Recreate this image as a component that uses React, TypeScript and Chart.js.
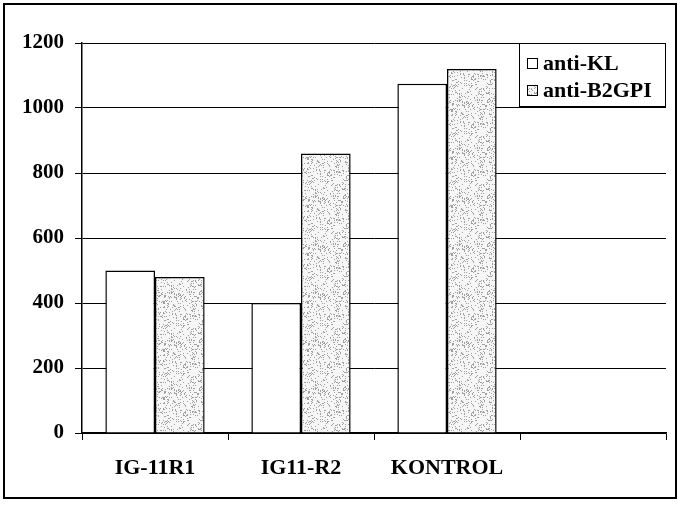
import React, { useEffect, useRef } from "react";
import { Chart, registerables } from "chart.js";

Chart.register(...registerables);

const categories = ["IG-11R1", "IG11-R2", "KONTROL", ""];
const seriesNames = ["anti-KL", "anti-B2GPI"];
const antiKL = [500, 400, 1075, null];
const antiB2GPI = [480, 860, 1120, null];
const yMin = 0;
const yMax = 1200;
const yStep = 200;

function makeStipple(): CanvasPattern | string {
  const n = 48;
  const c = document.createElement("canvas");
  c.width = n;
  c.height = n;
  const g = c.getContext("2d");
  if (!g) return "#e0e0e0";
  g.fillStyle = "#f6f6f6";
  g.fillRect(0, 0, n, n);
  g.fillStyle = "#a0a0a0";
  let s = 12345;
  for (let y = 0; y < n; y++) {
    for (let x = 0; x < n; x++) {
      s = (s * 1103515245 + 12345) & 0x7fffffff;
      if ((s >> 8) % 100 < 16) g.fillRect(x, y, 1, 1);
    }
  }
  const p = g.createPattern(c, "repeat");
  return p || "#e0e0e0";
}

const FONT = "'Liberation Serif', 'Times New Roman', serif";

export default function App() {
  const ref = useRef<HTMLCanvasElement>(null);
  useEffect(() => {
    if (!ref.current) return;
    const stipple = makeStipple();
    const framePlugin = {
      id: "frameAndLegend",
      afterDraw(chart: any) {
        const ctx = chart.ctx;
        ctx.save();
        ctx.strokeStyle = "#000";
        ctx.lineWidth = 2;
        ctx.strokeRect(4, 4, 672, 494);
        const ca = chart.chartArea;
        const bw = 147;
        const bh = 64;
        const bx = ca.right - bw;
        const by = ca.top;
        ctx.fillStyle = "#fff";
        ctx.fillRect(bx, by, bw, bh);
        ctx.lineWidth = 1;
        ctx.strokeRect(bx + 0.5, by + 0.5, bw - 1, bh - 1);
        const fills = ["#ffffff", stipple];
        const rows = [20, 47];
        chart.data.datasets.forEach((ds: any, i: number) => {
          const cy = by + rows[i];
          ctx.fillStyle = fills[i];
          ctx.fillRect(bx + 8, cy - 5, 10, 10);
          ctx.strokeStyle = "#000";
          ctx.lineWidth = 1;
          ctx.strokeRect(bx + 8.5, cy - 4.5, 10, 10);
          ctx.fillStyle = "#000";
          ctx.font = `bold 22px ${FONT}`;
          ctx.textBaseline = "middle";
          ctx.textAlign = "left";
          ctx.fillText(ds.label, bx + 24, cy + 1);
        });
        ctx.restore();
      },
    };
    const chart = new Chart(ref.current, {
      type: "bar",
      data: {
        labels: categories,
        datasets: [
          {
            label: seriesNames[0],
            data: antiKL,
            backgroundColor: "#ffffff",
            borderColor: "#000",
            borderWidth: 1.5,
            categoryPercentage: 0.68,
            barPercentage: 1.0,
          },
          {
            label: seriesNames[1],
            data: antiB2GPI,
            backgroundColor: stipple as any,
            borderColor: "#000",
            borderWidth: 1.5,
            categoryPercentage: 0.68,
            barPercentage: 1.0,
          },
        ],
      },
      options: {
        responsive: false,
        animation: false,
        layout: { padding: { left: 0, top: 43, right: 12, bottom: 0 } },
        plugins: {
          legend: { display: false },
          tooltip: { enabled: false },
        },
        scales: {
          x: {
            grid: {
              display: true,
              drawOnChartArea: false,
              drawTicks: true,
              tickLength: 7,
              color: "#000",
              lineWidth: 1,
            },
            border: { display: true, color: "#000", width: 1.5 },
            ticks: {
              color: "#000",
              font: { family: FONT, size: 22, weight: "bold" },
              padding: 15,
              maxRotation: 0,
              autoSkip: false,
            },
            afterFit(scale: any) {
              scale.height = 74;
            },
          },
          y: {
            min: yMin,
            max: yMax,
            grid: {
              color: "#000",
              lineWidth: 1,
              tickLength: 7,
            },
            border: { display: true, color: "#000", width: 1.5 },
            ticks: {
              stepSize: yStep,
              color: "#000",
              font: { family: FONT, size: 21, weight: "bold" },
              padding: 11,
              callback: (v: any) => String(v),
            },
            afterFit(scale: any) {
              scale.width = 82;
            },
          },
        },
      },
      plugins: [framePlugin],
    });
    return () => chart.destroy();
  }, []);
  return (
    <div style={{ position: "absolute", left: 0, top: 0, width: 678, height: 507, background: "#fff" }}>
      <canvas ref={ref} width={678} height={507} style={{ display: "block" }} />
    </div>
  );
}
